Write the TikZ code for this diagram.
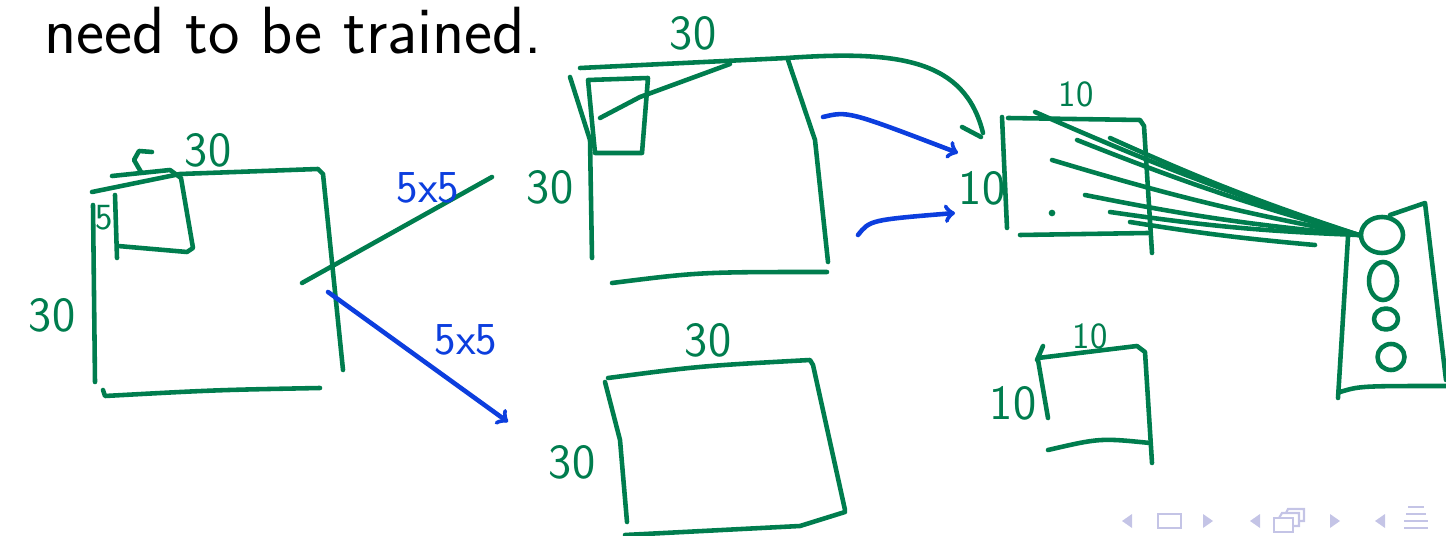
\documentclass[tikz,border=0pt]{standalone}
\usetikzlibrary{positioning}
\usetikzlibrary{shapes.geometric}
\definecolor{inkgreen}{RGB}{0,125,78}
\definecolor{inkblue}{RGB}{12,62,222}
\definecolor{navgray}{RGB}{196,196,230}
\tikzset{
  pen/.style={draw=inkgreen, line width=2.6pt, line cap=round, line join=round},
  bluepen/.style={draw=inkblue, line width=2.6pt, line cap=round, line join=round},
  hand/.style={text=inkgreen, font=\fontsize{28}{28}\sffamily, inner sep=0pt},
  smallhand/.style={hand, font=\fontsize{21}{21}\sffamily},
  bluehand/.style={hand, text=inkblue, font=\fontsize{26}{26}\sffamily},
  neuron/.style={pen, ellipse, inner sep=0pt},
  nav/.style={fill=navgray, draw=none},
}
\begin{document}
\begin{tikzpicture}[x=0.02cm,y=-0.02cm]
    \useasboundingbox (0,0) rectangle (1446,536);

    % title line
    \node[anchor=west, font=\fontsize{38}{40}\sffamily] (title) at (38,31) {need to be trained.};

    % input image
    \draw[pen] (92,192) -- (180,174) -- (318,169) -- (323,174) -- (343,370);
    \draw[pen] (93,205) -- (95,382);
    \draw[pen] (103,390) -- (105,396) .. controls (215,390) .. (320,388);
    \node[hand] (inW) at (208,150) {30};
    \node[hand] (inH) at (52,315) {30};
    \draw[pen] (152,152) -- (139,151) -- (134,160) -- (141,172);
    % filter window
    \draw[pen] (112,176) -- (170,170) -- (181,178) -- (193,248) -- (187,252) -- (118,246);
    \draw[pen] (115,195) -- (117,258);
    \node[smallhand] (fsize) at (104,218) {5};

    % filters
    \coordinate (fa) at (302,283);
    \coordinate (fb) at (492,177);
    \draw[pen] (fa) -- (fb);
    \node[bluehand] (k1) at (428,188) {5x5};
    \coordinate (ga) at (328,292);
    \coordinate (gb) at (508,422);
    \draw[bluepen, ->] (ga) -- (gb);
    \node[bluehand] (k2) at (466,340) {5x5};

    % feature map 1
    \draw[pen] (580,68) -- (787,58) .. controls (900,50) and (965,60) .. (983,133);
    \draw[pen] (962,127) -- (981,137);
    \draw[pen] (570,77) -- (590,140) -- (592,258);
    \draw[pen] (788,60) -- (815,140) -- (828,262);
    \draw[pen] (612,283) .. controls (700,272) .. (827,272);
    \draw[pen] (588,80) -- (648,78) -- (642,153) -- (595,153) -- cycle;
    \draw[pen] (600,118) -- (640,97) -- (730,64);
    \node[hand] (m1W) at (693,33) {30};
    \node[hand] (m1H) at (550,187) {30};

    % pooling arrows
    \draw[bluepen, ->] (823,117) .. controls (848,111) .. (958,153);
    \draw[bluepen, ->] (858,235) .. controls (870,220) .. (955,213);

    % pooled map
    \draw[pen] (1002,117) -- (1007,228);
    \draw[pen] (1008,118) -- (1140,120) -- (1144,126) -- (1152,253);
    \draw[pen] (1020,235) -- (1148,233);
    \fill[inkgreen] (1052,213) circle[radius=1.9pt];
    \node[smallhand] (p1W) at (1076,94) {10};
    \node[hand] (p1H) at (982,188) {10};

    % output layer
    \node[neuron, minimum width=0.84cm, minimum height=0.72cm] (o1) at (1382,235) {};
    \node[neuron, minimum width=0.56cm, minimum height=0.76cm] (o2) at (1383,281) {};
    \node[neuron, minimum width=0.48cm, minimum height=0.42cm] (o3) at (1386,319) {};
    \node[neuron, minimum width=0.54cm, minimum height=0.52cm] (o4) at (1391,357) {};
    \draw[pen] (1348,237) -- (1338,398);
    \draw[pen] (1340,392) .. controls (1360,386) .. (1446,386);
    \draw[pen] (1390,215) -- (1425,203) -- (1446,380);

    % fully connected
    \foreach \sx/\sy in {1035/112, 1110/138, 1077/140, 1052/160, 1085/195, 1110/212}
        \draw[pen] (\sx,\sy) to[bend right=3] (o1.west);
    \draw[pen] (1130,222) to[bend right=2] (1315,245);

    % feature map 2
    \draw[pen] (608,378) .. controls (700,366) .. (810,360) -- (813,365) -- (845,510);
    \draw[pen] (605,382) -- (620,440) -- (627,522);
    \draw[pen] (625,535) -- (800,526) -- (845,512);
    \node[hand] (m2W) at (708,340) {30};
    \node[hand] (m2H) at (572,462) {30};

    % pooled map 2
    \draw[pen] (1043,346) -- (1037,360);
    \draw[pen] (1038,358) -- (1137,346) -- (1145,352) -- (1152,463);
    \draw[pen] (1038,360) -- (1048,418);
    \draw[pen] (1048,450) .. controls (1100,438) .. (1150,443);
    \node[smallhand] (p2W) at (1090,336) {10};
    \node[hand] (p2H) at (1013,403) {10};

    % navigation symbols
    \fill[nav] (1132,514) -- (1122,521) -- (1132,528) -- cycle;
    \draw[navgray, line width=1.2pt] (1158,514) rectangle (1181,528);
    \fill[nav] (1203,514) -- (1213,521) -- (1203,528) -- cycle;
    \fill[nav] (1260,514) -- (1250,521) -- (1260,528) -- cycle;
    \draw[navgray, line width=1.2pt] (1274,518) rectangle (1293,532);
    \draw[navgray, line width=1.2pt] (1279,518) -- (1282,513) -- (1299,513) -- (1299,526) -- (1293,526);
    \draw[navgray, line width=1.2pt] (1286,513) -- (1288,509) -- (1304,509) -- (1304,521) -- (1299,521);
    \fill[nav] (1330,514) -- (1340,521) -- (1330,528) -- cycle;
    \fill[nav] (1385,514) -- (1375,521) -- (1385,528) -- cycle;
    \foreach \ly/\lw in {507/8, 514/10, 521/12, 528/12}
        \draw[navgray, line width=1.4pt] (1416-\lw,\ly) -- (1416+\lw,\ly);
\end{tikzpicture}
\end{document}
